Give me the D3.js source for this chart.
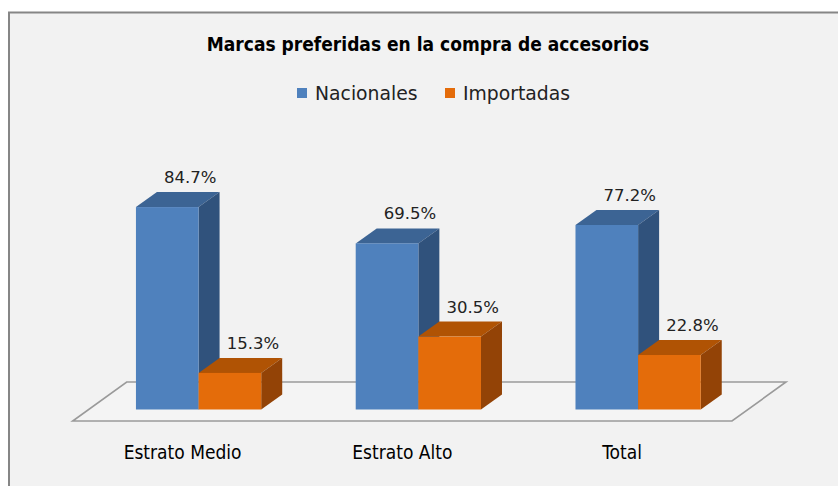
<!DOCTYPE html>
<html>
<head>
<meta charset="utf-8">
<script src="https://cdn.jsdelivr.net/npm/d3@7"></script>
<style>
  body { margin: 0; background: #fff; }
</style>
</head>
<body>
<div class="main-container"></div>
<script>
const categories = ["Estrato Medio", "Estrato Alto", "Total"];
const series = ["Nacionales", "Importadas"];
const nacionales = [84.7, 69.5, 77.2];
const importadas = [15.3, 30.5, 22.8];
const title = "Marcas preferidas en la compra de accesorios";

const width = 838,
  height = 486;

// faces of each series: front, top, side
const colors = {
  Nacionales: {front: "#4f81bd", top: "#3c6494", side: "#30527c"},
  Importadas: {front: "#e46c0a", top: "#b05304", side: "#934306"}
};

// oblique depth of the bars and of the floor, relative to the bar plane
const depth = {dx: 21, dy: -15};
const floorFront = {dx: -16, dy: 11.5},
  floorBack = {dx: 38, dy: -27.5};

const svg = d3.select(".main-container")
  .append("svg")
  .attr("width", width)
  .attr("height", height);

svg.append("rect")
  .attr("x", 9)
  .attr("y", 12.5)
  .attr("width", width + 10)
  .attr("height", height + 10)
  .attr("fill", "#f2f2f2")
  .attr("stroke", "#868686")
  .attr("stroke-width", 2);

svg.append("text")
  .attr("x", 428)
  .attr("y", 51)
  .attr("text-anchor", "middle")
  .style("font-family", "'Liberation Sans Narrow', 'DejaVu Sans Condensed', sans-serif")
  .style("font-weight", "bold")
  .style("font-size", "19px")
  .attr("fill", "#000")
  .text(title);

let x0 = d3.scaleBand()
  .domain(categories)
  .range([88.7, 748])
  .paddingInner(0.43)
  .paddingOuter(0.215);

let x1 = d3.scaleBand()
  .domain(series)
  .range([0, x0.bandwidth()]);

let y = d3.scaleLinear()
  .domain([0, 100])
  .range([409.5, 170.5]);

// legend
const legend = svg.append("g").attr("transform", "translate(297, 0)");
const legendX = [0, 148];
series.forEach((s, i) => {
  const g = legend.append("g").attr("transform", `translate(${legendX[i]}, 0)`);
  g.append("rect")
    .attr("x", 0)
    .attr("y", 88)
    .attr("width", 10)
    .attr("height", 10)
    .attr("fill", colors[s].front);
  g.append("text")
    .attr("x", 18)
    .attr("y", 100)
    .style("font-family", "'DejaVu Sans', sans-serif")
    .style("font-size", "18.8px")
    .attr("fill", "#222")
    .text(s);
});

// floor
const left = x0.range()[0], right = x0.range()[1], base = y(0);
svg.append("polygon")
  .attr("points", [
    [left + floorFront.dx, base + floorFront.dy],
    [right + floorFront.dx, base + floorFront.dy],
    [right + floorBack.dx, base + floorBack.dy],
    [left + floorBack.dx, base + floorBack.dy]
  ].map(p => p.join(",")).join(" "))
  .attr("fill", "#f4f4f4")
  .attr("stroke", "#9a9a9a")
  .attr("stroke-width", 1.6);

// bars
const rows = categories.map((c, i) => ({
  category: c,
  values: [
    {series: "Nacionales", value: nacionales[i]},
    {series: "Importadas", value: importadas[i]}
  ]
}));

const pts = arr => arr.map(p => p.join(",")).join(" ");

rows.forEach(row => {
  const g = svg.append("g")
    .attr("transform", `translate(${x0(row.category)}, 0)`);

  row.values.forEach(d => {
    const xa = x1(d.series), xb = xa + x1.bandwidth();
    const yt = y(d.value), yb = y(0);
    const c = colors[d.series];

    g.append("polygon")
      .attr("points", pts([[xa, yt], [xb, yt], [xb + depth.dx, yt + depth.dy], [xa + depth.dx, yt + depth.dy]]))
      .attr("fill", c.top);
    g.append("polygon")
      .attr("points", pts([[xb, yt], [xb + depth.dx, yt + depth.dy], [xb + depth.dx, yb + depth.dy], [xb, yb]]))
      .attr("fill", c.side);
    g.append("rect")
      .attr("x", xa)
      .attr("y", yt)
      .attr("width", xb - xa)
      .attr("height", yb - yt)
      .attr("fill", c.front);

    g.append("text")
      .attr("x", (xa + xb) / 2 + depth.dx + 2)
      .attr("y", yt + depth.dy - 9)
      .attr("text-anchor", "middle")
      .style("font-family", "'DejaVu Sans', sans-serif")
      .style("font-size", "16.5px")
      .attr("fill", "#222")
      .text(d.value.toFixed(1) + "%");
  });
});

// category labels
svg.selectAll(".cat")
  .data(categories)
  .enter()
  .append("text")
  .attr("class", "cat")
  .attr("x", d => x0(d) + x0.bandwidth() / 2 + floorFront.dx)
  .attr("y", 459)
  .attr("text-anchor", "middle")
  .style("font-family", "'Liberation Sans Narrow', 'DejaVu Sans Condensed', sans-serif")
  .style("font-size", "19px")
  .attr("fill", "#000")
  .text(d => d);
</script>
</body>
</html>
